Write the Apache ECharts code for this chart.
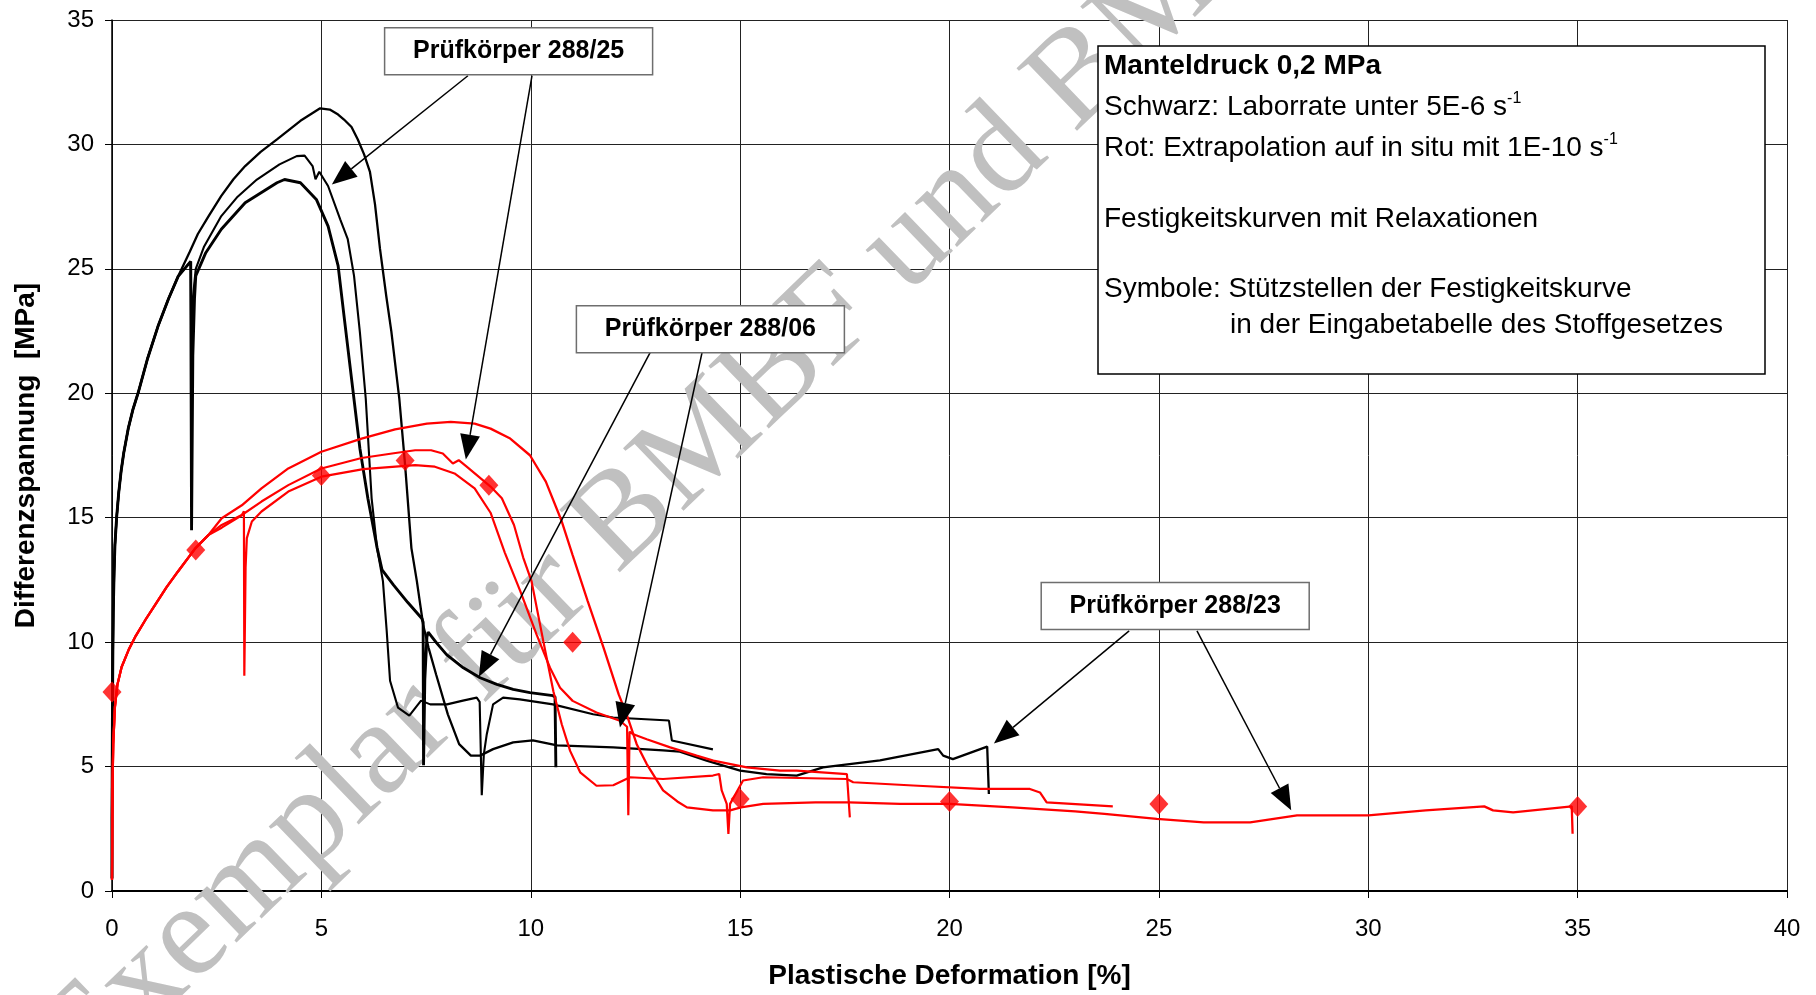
<!DOCTYPE html>
<html><head><meta charset="utf-8">
<script src="https://cdn.jsdelivr.net/npm/echarts@6/dist/echarts.min.js"></script>
<style>html,body{margin:0;padding:0;background:#fff}#c{width:1816px;height:995px}</style>
</head><body><div id="c"></div>
<script>
// ---------- DATA (x: Plastische Deformation [%], y: Differenzspannung [MPa]) ----------
const blackStart = [[0,0.5],[0.0,3],[0.01,7],[0.02,9.5],[0.03,11.2],[0.05,12.8],[0.07,13.9],[0.11,15.0],[0.16,16.0],[0.22,16.9],[0.28,17.6],[0.39,18.6],[0.5,19.35],[0.63,20.05],[0.85,21.4],[1.1,22.7],[1.35,23.8],[1.58,24.7]];
const black_288_23 = [[1.86,25.7],[2.05,26.4],[2.3,27.1],[2.61,27.93],[2.9,28.6],[3.18,29.13],[3.55,29.7],[3.94,30.2],[4.5,30.95],[4.97,31.45],[5.2,31.4],[5.4,31.2],[5.54,31.0],[5.72,30.7],[5.87,30.2],[6.02,29.6],[6.16,28.9],[6.28,27.6],[6.4,25.8],[6.55,23.9],[6.67,22.5],[6.86,19.8],[7.0,17.1],[7.15,13.78],[7.28,12.45],[7.43,10.7],[7.56,9.77],[7.74,8.7],[8.02,7.1],[8.29,5.9],[8.57,5.44],[8.79,5.44],[9.1,5.7],[9.58,5.97],[10.05,6.05],[10.63,5.85],[11.97,5.77],[13.16,5.65],[13.56,5.6],[14.2,5.24],[15.0,4.84],[15.63,4.7],[16.35,4.64],[16.98,4.97],[18.34,5.25],[19.73,5.7],[19.85,5.44],[20.08,5.3],[20.9,5.8],[20.94,3.9]];
const black_288_25 = [[1.88,25.3],[1.9,19.1],[1.93,23.8],[2.0,25.0],[2.2,25.9],[2.61,27.12],[3.0,27.9],[3.46,28.59],[4.0,29.2],[4.41,29.53],[4.6,29.55],[4.79,29.13],[4.86,28.6],[4.95,28.9],[5.16,28.33],[5.45,26.99],[5.63,26.19],[5.78,24.72],[5.92,22.45],[6.06,19.78],[6.2,15.78],[6.33,13.78],[6.47,12.45],[6.56,10.45],[6.64,8.45],[6.83,7.37],[7.1,7.05],[7.38,7.65],[7.6,7.5],[8.0,7.5],[8.38,7.65],[8.71,7.77],[8.78,7.6],[8.83,3.85],[8.88,5.5],[8.95,6.3],[9.1,7.5],[9.34,7.77],[9.74,7.7],[10.53,7.5],[11.49,7.1],[11.97,6.97],[13.3,6.85],[13.37,6.05],[14.35,5.69]];
const black_288_06 = [[1.88,25.3],[1.9,14.5],[1.93,21.5],[1.97,23.8],[2.0,24.72],[2.24,25.65],[2.61,26.59],[3.18,27.66],[3.94,28.46],[4.12,28.59],[4.5,28.46],[4.88,27.79],[5.16,26.72],[5.4,25.12],[5.54,23.12],[5.73,20.45],[5.92,17.78],[6.11,15.78],[6.33,13.8],[6.45,12.9],[6.72,12.3],[7.06,11.6],[7.4,10.95],[7.43,10.8],[7.44,5.05],[7.47,8.5],[7.52,10.2],[7.55,10.4],[7.75,9.97],[7.99,9.5],[8.39,8.97],[8.79,8.57],[9.19,8.3],[9.58,8.1],[9.98,7.97],[10.53,7.85],[10.58,7.8],[10.6,4.97]];

const redStart = [[0,0.44],[0.005,2],[0.01,4],[0.03,5.9],[0.07,7.4],[0.13,8.3],[0.23,9.0],[0.4,9.7],[0.55,10.2],[0.8,10.9],[1.03,11.5],[1.3,12.2],[1.58,12.85],[1.98,13.75],[2.3,14.3]];
const red_288_23 = [[2.62,14.98],[3.1,15.5],[3.57,16.18],[4.21,16.98],[5.0,17.65],[5.96,18.18],[6.76,18.55],[7.52,18.78],[8.09,18.85],[8.66,18.78],[9.04,18.58],[9.51,18.18],[9.98,17.51],[10.36,16.45],[10.73,14.9],[11.0,13.5],[11.36,11.65],[11.74,9.77],[12.1,7.9],[12.29,7.1],[12.53,5.9],[12.77,5.1],[13.16,4.04],[13.5,3.6],[13.73,3.36],[14.35,3.24],[14.76,3.24],[15.02,3.36],[15.55,3.5],[16.8,3.56],[17.6,3.56],[18.82,3.5],[20.0,3.5],[21.5,3.36],[23.0,3.2],[23.7,3.1],[24.95,2.9],[26.07,2.76],[27.18,2.76],[28.3,3.04],[30.0,3.04],[31.37,3.24],[32.77,3.4],[32.98,3.24],[33.46,3.16],[34.86,3.4],[34.88,2.3]];
const red_288_25 = [[2.62,14.71],[3.1,15.11],[3.57,15.65],[4.21,16.31],[5.0,16.98],[5.96,17.4],[6.77,17.6],[7.24,17.71],[7.62,17.71],[7.9,17.58],[8.14,17.18],[8.28,17.31],[8.47,17.05],[9.04,16.25],[9.31,15.78],[9.6,14.71],[9.82,13.4],[10.02,12.44],[10.3,10.04],[10.54,8.03],[10.74,6.7],[10.94,5.63],[11.18,4.77],[11.57,4.23],[11.97,4.25],[12.37,4.57],[13.16,4.5],[14.35,4.64],[14.5,4.7],[14.56,4.04],[14.68,3.5],[14.72,2.29],[14.76,3.5],[15.07,4.44],[15.55,4.57],[17.55,4.5],[17.7,4.37],[19.13,4.24],[20.73,4.1],[21.92,4.1],[22.16,3.96],[22.32,3.56],[23.9,3.4]];
const red_288_06 = [[2.62,14.6],[3.1,15.1],[3.15,15.26],[3.16,8.65],[3.19,13.0],[3.22,14.18],[3.34,14.85],[3.57,15.25],[4.21,16.05],[5.0,16.65],[6.0,16.95],[6.77,17.05],[7.24,17.11],[7.71,17.05],[8.18,16.78],[8.66,16.18],[9.04,15.2],[9.38,13.6],[9.75,12.05],[10.14,10.3],[10.46,8.97],[10.7,8.17],[11.0,7.64],[11.57,7.17],[12.13,6.84],[12.3,6.6],[12.33,3.04],[12.36,6.4],[12.45,6.3],[12.77,6.1],[13.33,5.77],[13.96,5.44],[14.36,5.24],[15.16,4.97],[15.95,4.84],[16.35,4.84],[17.55,4.7],[17.62,2.96]];

const supportPoints = [[0,8],[2,13.7],[5,16.7],[7,17.3],[9,16.3],[11,10],[15,3.7],[20,3.6],[25,3.5],[35,3.4]];

const specimenLabels = ['Prüfkörper 288/25','Prüfkörper 288/06','Prüfkörper 288/23'];
const labelCenters = [[9.71,33.74],[14.29,22.57],[25.39,11.45]];
const labelArrows = [
  [[[8.5,32.76],[5.25,28.39]], [[10.03,32.76],[8.45,17.34]]],
  [[[12.85,21.63],[8.76,8.61]], [[14.09,21.63],[12.13,6.57]]],
  [[[24.29,10.45],[21.06,5.93]], [[25.91,10.45],[28.16,3.24]]]
];
const noteTitle = 'Manteldruck 0,2 MPa';
const noteLines = ['Schwarz: Laborrate unter 5E-6 s','Rot: Extrapolation auf in situ mit 1E-10 s','Festigkeitskurven mit Relaxationen','Symbole: Stützstellen der Festigkeitskurve','in der Eingabetabelle des Stoffgesetzes'];
const watermarkText = 'Exemplar für BMBF und BMU';
const xTitle = 'Plastische Deformation [%]';
const yTitle = 'Differenzspannung  [MPa]';

// ---------- CHART ----------
const FF = '"Liberation Sans", Arial, sans-serif';
const chart = echarts.init(document.getElementById('c'), null, {renderer:'canvas'});
function lineSeries(name, data, color, width){
  return {name, type:'line', data, showSymbol:false, symbol:'none', smooth:false, z:3,
    lineStyle:{color, width}, emphasis:{disabled:true}, silent:true};
}
const option = {
  animation:false,
  backgroundColor:'#ffffff',
  grid:{left:112, right:29, top:20, bottom:101},
  xAxis:{type:'value', min:0, max:40, interval:5,
    name:xTitle, nameLocation:'middle', nameGap:71,
    nameTextStyle:{fontFamily:FF, fontSize:28, fontWeight:'bold', color:'#000'},
    axisLine:{show:true, onZero:false, lineStyle:{color:'#000', width:2}},
    axisTick:{show:true, length:7, lineStyle:{color:'#000', width:1}},
    axisLabel:{fontFamily:FF, fontSize:24, color:'#000', margin:26},
    splitLine:{show:true, lineStyle:{color:'#222', width:1}}},
  yAxis:{type:'value', min:0, max:35, interval:5,
    name:yTitle, nameLocation:'middle', nameGap:72,
    nameTextStyle:{fontFamily:FF, fontSize:28, fontWeight:'bold', color:'#000'},
    axisLine:{show:true, onZero:false, lineStyle:{color:'#000', width:1.5}},
    axisTick:{show:true, length:7, lineStyle:{color:'#000', width:1}},
    axisLabel:{fontFamily:FF, fontSize:24, color:'#000', margin:18},
    splitLine:{show:true, lineStyle:{color:'#222', width:1}}},
  series:[
    lineSeries('288/23 schwarz', blackStart.concat(black_288_23), '#000', 2.3),
    lineSeries('288/25 schwarz', blackStart.concat(black_288_25), '#000', 2.1),
    lineSeries('288/06 schwarz', blackStart.concat(black_288_06), '#000', 2.9),
    lineSeries('288/23 rot', redStart.concat(red_288_23), '#ff0000', 2.3),
    lineSeries('288/25 rot', redStart.concat(red_288_25), '#ff0000', 2.2),
    lineSeries('288/06 rot', redStart.concat(red_288_06), '#ff0000', 2.2),
    {name:'Stützstellen', type:'scatter', data:supportPoints, symbol:'diamond', symbolSize:[19,21], z:4,
      itemStyle:{color:'#ff0000'}, silent:true}
  ]
};
chart.setOption(option);

// ---------- ANNOTATIONS ----------
const P = p => chart.convertToPixel({gridIndex:0}, p);
const g = [];
// watermark (under the curves)
const wmAnchor = P([13.2, 16.5]);
g.push({type:'text', x:wmAnchor[0], y:wmAnchor[1], rotation:44*Math.PI/180, z:1, silent:true,
  style:{text:watermarkText, font:'133px "Liberation Serif", "Times New Roman", serif', fill:'#c0c0c0',
    align:'center', verticalAlign:'middle', textAlign:'center', textVerticalAlign:'middle'}});
// arrows
labelArrows.forEach(pair => pair.forEach(([a,b]) => {
  const s = P(a), e = P(b);
  const dx = e[0]-s[0], dy = e[1]-s[1], L = Math.hypot(dx,dy);
  const ux = dx/L, uy = dy/L, AL = 25, AW = 10;
  const bx = e[0]-ux*AL, by = e[1]-uy*AL;
  g.push({type:'line', z:90, silent:true, shape:{x1:s[0], y1:s[1], x2:bx, y2:by}, style:{stroke:'#000', lineWidth:1.5}});
  g.push({type:'polygon', z:90, silent:true, shape:{points:[[e[0],e[1]],[bx-uy*AW, by+ux*AW],[bx+uy*AW, by-ux*AW]]}, style:{fill:'#000'}});
}));
// specimen label boxes
specimenLabels.forEach((t,i) => {
  const c = P(labelCenters[i]);
  const w = 268, h = 47;
  g.push({type:'rect', z:95, silent:true, shape:{x:c[0]-w/2, y:c[1]-h/2, width:w, height:h},
    style:{fill:'#fff', stroke:'#6e6e6e', lineWidth:1.5}});
  g.push({type:'text', z:96, silent:true, x:c[0], y:c[1],
    style:{text:t, font:'bold 25px '+FF, fill:'#000', align:'center', verticalAlign:'middle', textAlign:'center', textVerticalAlign:'middle'}});
});
// note box (top right)
const bx0 = 1098, by0 = 46, bw = 667, bh = 328, tx = bx0 + 6;
g.push({type:'rect', z:95, silent:true, shape:{x:bx0, y:by0, width:bw, height:bh}, style:{fill:'#fff', stroke:'#000', lineWidth:1.5}});
g.push({type:'text', z:96, silent:true, x:tx, y:by0+20,
  style:{text:noteTitle, font:'bold 28px '+FF, fill:'#000', align:'left', verticalAlign:'middle', textAlign:'left', textVerticalAlign:'middle'}});
const rich = {a:{fontFamily:FF, fontSize:28, color:'#000', lineHeight:32}, s:{fontFamily:FF, fontSize:16, color:'#000', lineHeight:12, verticalAlign:'top'}};
[[noteLines[0], true, 61, 0],[noteLines[1], true, 102, 0],[noteLines[2], false, 173, 0],[noteLines[3], false, 243, 0],[noteLines[4], false, 279, 126]].forEach(([t, sup, dy, dx]) => {
  g.push({type:'text', z:96, silent:true, x:tx+dx, y:by0+dy,
    style:{text:'{a|'+t+'}'+(sup?'{s|-1}':''), rich, align:'left', verticalAlign:'middle', textAlign:'left', textVerticalAlign:'middle'}});
});
chart.setOption({graphic:{elements:g}});
</script></body></html>
